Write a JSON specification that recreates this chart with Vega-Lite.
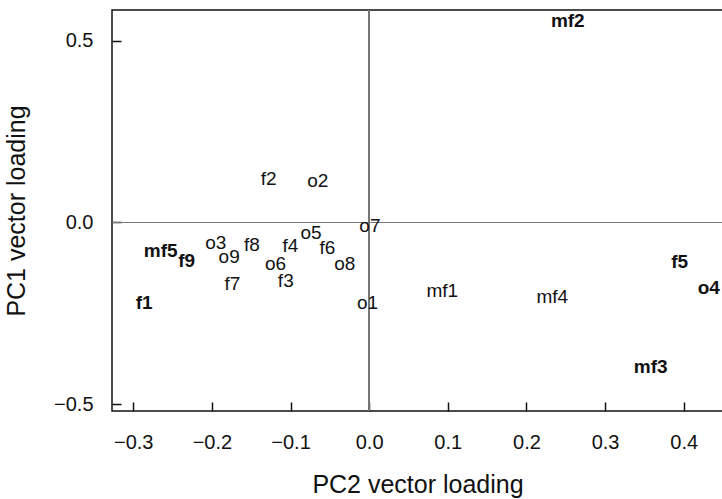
{
  "$schema": "https://vega.github.io/schema/vega-lite/v6.json",
  "autosize": "none",
  "width": 611,
  "height": 401,
  "padding": {"left": 112, "top": 10, "right": 0, "bottom": 88},
  "background": "white",
  "config": {
    "view": {"stroke": "#111", "strokeWidth": 1.5},
    "font": "Liberation Sans",
    "axis": {
      "grid": false,
      "domain": false,
      "ticks": true,
      "tickColor": "#111",
      "tickWidth": 1.5,
      "tickSize": -9,
      "labelColor": "#111",
      "labelFont": "Liberation Sans",
      "labelFontSize": 20,
      "titleFont": "Liberation Sans",
      "titleFontSize": 25,
      "titleFontWeight": "normal",
      "titleColor": "#111"
    }
  },
  "data": {
    "values": [
      {"name": "mf2", "pc2": 0.2526, "pc1": 0.556, "group": "major"},
      {"name": "f2", "pc2": -0.1278, "pc1": 0.119, "group": "minor"},
      {"name": "o2", "pc2": -0.0654, "pc1": 0.113, "group": "minor"},
      {"name": "o7", "pc2": 0.001, "pc1": -0.009, "group": "minor"},
      {"name": "o5", "pc2": -0.0739, "pc1": -0.030, "group": "minor"},
      {"name": "f4", "pc2": -0.100, "pc1": -0.064, "group": "minor"},
      {"name": "f6", "pc2": -0.053, "pc1": -0.069, "group": "minor"},
      {"name": "o8", "pc2": -0.031, "pc1": -0.113, "group": "minor"},
      {"name": "f8", "pc2": -0.149, "pc1": -0.062, "group": "minor"},
      {"name": "o3", "pc2": -0.195, "pc1": -0.056, "group": "minor"},
      {"name": "o9", "pc2": -0.178, "pc1": -0.096, "group": "minor"},
      {"name": "mf5", "pc2": -0.265, "pc1": -0.078, "group": "major"},
      {"name": "f9", "pc2": -0.232, "pc1": -0.107, "group": "major"},
      {"name": "o6", "pc2": -0.119, "pc1": -0.113, "group": "minor"},
      {"name": "f7", "pc2": -0.174, "pc1": -0.168, "group": "minor"},
      {"name": "f3", "pc2": -0.106, "pc1": -0.160, "group": "minor"},
      {"name": "f1", "pc2": -0.286, "pc1": -0.223, "group": "major"},
      {"name": "o1", "pc2": -0.002, "pc1": -0.221, "group": "minor"},
      {"name": "mf1", "pc2": 0.093, "pc1": -0.188, "group": "minor"},
      {"name": "mf4", "pc2": 0.233, "pc1": -0.205, "group": "minor"},
      {"name": "f5", "pc2": 0.395, "pc1": -0.110, "group": "major"},
      {"name": "o4", "pc2": 0.432, "pc1": -0.181, "group": "major"},
      {"name": "mf3", "pc2": 0.358, "pc1": -0.399, "group": "major"}
    ]
  },
  "encoding": {
    "x": {
      "field": "pc2", "type": "quantitative",
      "scale": {"domain": [-0.327, 0.45], "nice": false, "zero": false},
      "axis": {"title": "PC2 vector loading", "values": [-0.3, -0.2, -0.1, 0, 0.1, 0.2, 0.3, 0.4], "format": ".1f", "labelPadding": 30, "titlePadding": 20}
    },
    "y": {
      "field": "pc1", "type": "quantitative",
      "scale": {"domain": [-0.519, 0.585], "nice": false, "zero": false},
      "axis": {"title": "PC1 vector loading", "values": [-0.5, 0, 0.5], "format": ".1f", "labelPadding": 28, "titlePadding": 24}
    }
  },
  "layer": [
    {"mark": {"type": "rule", "color": "#777", "strokeWidth": 1.2}, "encoding": {"x": {"datum": 0}, "y": null}},
    {"mark": {"type": "rule", "color": "#777", "strokeWidth": 1.2}, "encoding": {"y": {"datum": 0}, "x": null}},
    {
      "transform": [{"filter": "datum.group === 'minor'"}],
      "mark": {"type": "text", "fontSize": 19, "font": "Liberation Sans", "color": "#111", "align": "center", "baseline": "middle"},
      "encoding": {"text": {"field": "name"}}
    },
    {
      "transform": [{"filter": "datum.group === 'major'"}],
      "mark": {"type": "text", "fontSize": 19, "font": "Liberation Sans", "fontWeight": "bold", "color": "#111", "align": "center", "baseline": "middle"},
      "encoding": {"text": {"field": "name"}}
    }
  ]
}
